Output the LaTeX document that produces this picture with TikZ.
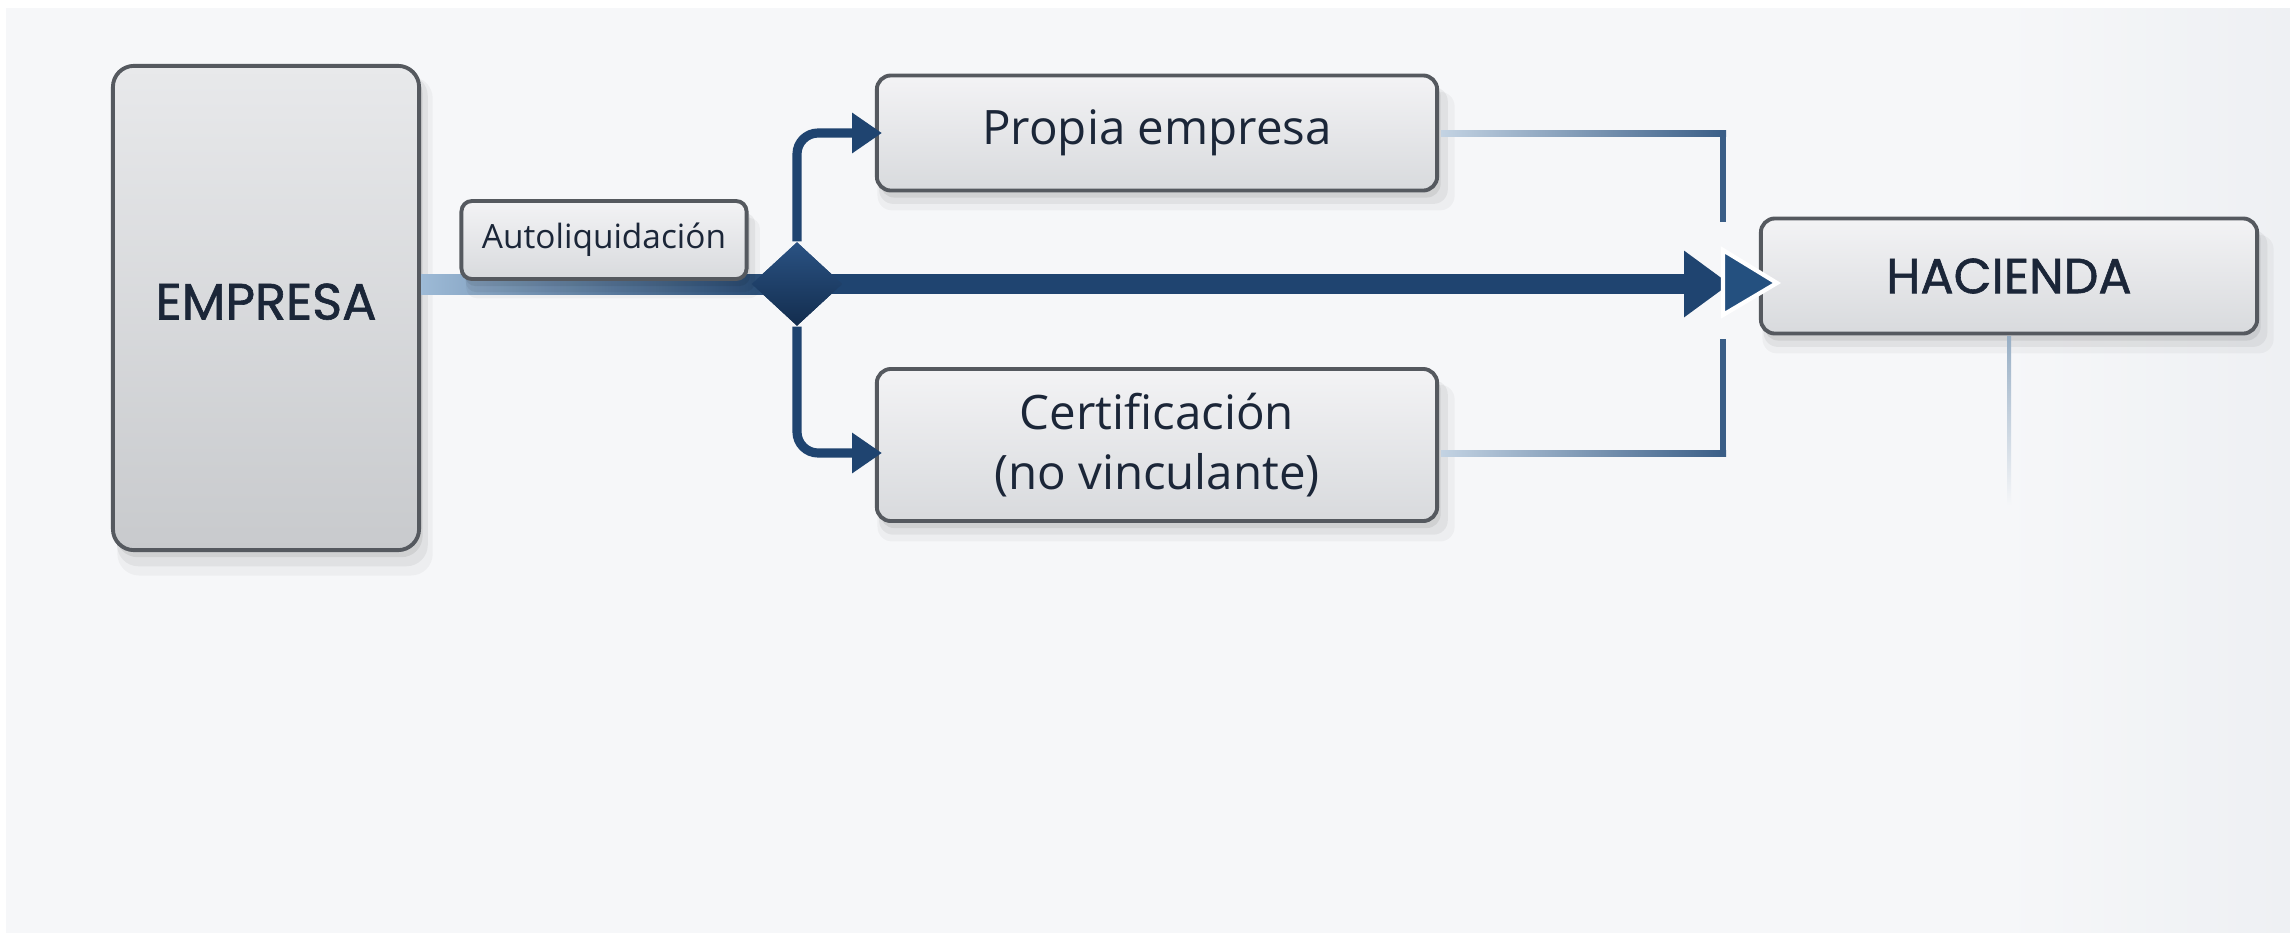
\documentclass[tikz,border=0pt]{standalone}
\usepackage{fontspec}
\setmainfont{Open Sans}
\newfontfamily\geo{Poppins}[FakeBold=1.2]
\usetikzlibrary{shapes.geometric,arrows.meta,shadows,calc}
\definecolor{bg}{HTML}{F6F7F9}
\definecolor{bgr}{HTML}{EEF0F3}
\definecolor{navy}{HTML}{1F4470}
\definecolor{navy2}{HTML}{24507F}
\definecolor{navyl}{HTML}{2A5283}
\definecolor{navyd}{HTML}{132D4E}
\definecolor{lblue}{HTML}{9DBAD6}
\definecolor{pale}{HTML}{C3D3E3}
\definecolor{midblue}{HTML}{3A5E87}
\definecolor{txt}{HTML}{1B2638}
\definecolor{bord}{HTML}{55595F}
\definecolor{boxt}{HTML}{F3F3F5}
\definecolor{boxb}{HTML}{D8DADD}
\definecolor{empt}{HTML}{E8E9EB}
\definecolor{empb}{HTML}{C8CACD}
\tikzset{
  softshadow/.style={
    general shadow={fill=black, opacity=0.035, shadow xshift=2.5pt, shadow yshift=-5pt, shadow scale=1.03},
    general shadow={fill=black, opacity=0.05, shadow xshift=1.8pt, shadow yshift=-3.5pt, shadow scale=1.015},
    general shadow={fill=black, opacity=0.07, shadow xshift=1pt, shadow yshift=-2pt}},
  box/.style={draw=bord, line width=1.1pt, rounded corners=4pt,
    top color=boxt, bottom color=boxb, softshadow,
    text=txt, align=center, inner sep=0pt},
  lbl/.style={font=\fontsize{13.5}{17}\selectfont},
  branch/.style={draw=navy, line width=2.6pt, rounded corners=6pt,
    -{Triangle[length=8.5pt,width=11pt]}, shorten >=-2pt},
  feed/.style={draw=midblue, line width=1.7pt},
  junction/.style={diamond, draw=none, inner sep=0pt, minimum width=0.91cm,
    minimum height=0.84cm, top color=navyl, bottom color=navyd},
}
\begin{document}
\begin{tikzpicture}[x=0.01cm,y=-0.01cm]
\fill[bg] (0,0) rectangle (2290,933);
\shade[left color=bg, right color=bgr] (2000,0) rectangle (2290,933);
\fill[white] (0,0) rectangle (2290,8);
\fill[white] (0,0) rectangle (6,933);
\useasboundingbox (0,0) rectangle (2290,933);

% nodes
\node[box, top color=empt, bottom color=empb, rounded corners=6pt,
  minimum width=3.06cm, minimum height=4.84cm] (emp) at (266,308)
  {\geo\fontsize{14.5}{17}\selectfont\raisebox{3.7pt}{EMPRESA}};
\node[junction] (dia) at (797,284) {};
\node[box, lbl, minimum width=5.6cm, minimum height=1.15cm] (prop) at (1157,133)
  {\raisebox{1pt}{Propia empresa}};
\node[box, lbl, minimum width=5.6cm, minimum height=1.52cm] (cert) at (1157,445)
  {Certificación\\(no vinculante)};
\node[box, minimum width=4.96cm, minimum height=1.15cm] (hac) at (2009,276)
  {\geo\fontsize{14}{17}\selectfont HACIENDA};

% main line from EMPRESA to diamond
\fill[left color=lblue, right color=navy]
  ($(emp.east |- dia.center)+(0,-10)$) rectangle ($(dia.center)+(0,10)$);
\node[box, rounded corners=3pt, minimum width=2.85cm, minimum height=0.78cm,
  font=\fontsize{9.5}{12}\selectfont] (auto) at (604,240) {Autoliquidación};

% main arrow to HACIENDA (double head)
\draw[navy, line width=5.7pt, -{Triangle[length=13pt,width=18pt]}]
  (dia.center) -- ($(hac.west)+(-29,8)$);
\filldraw[fill=navy2, draw=white, line width=1.2pt, line join=miter]
  ($(hac.west)+(-36,-26)$) -- ($(hac.west)+(18,7)$) -- ($(hac.west)+(-36,39)$) -- cycle;
\node[junction] at (dia) {};

% branches
\draw[branch] (dia.north) |- (prop.west);
\draw[branch] (dia.south) |- ($(cert.west)+(0,8)$);

% feeds into HACIENDA
\coordinate (pj) at (1723,222);
\coordinate (cj) at (1723,339);
\fill[left color=pale, right color=midblue]
  ($(prop.east)+(2,-3)$) rectangle ($(pj |- prop.east)+(3,3)$);
\draw[feed] ($(pj |- prop.east)+(0,-3)$) -- (pj);
\fill[left color=pale, right color=midblue]
  ($(cert.east)+(2,5)$) rectangle ($(cj |- cert.east)+(3,11)$);
\draw[feed] ($(cj |- cert.east)+(0,11)$) -- (cj);

% line below HACIENDA
\shade[top color=lblue!80!gray, bottom color=bg]
  ($(hac.south)+(-2,1)$) rectangle ($(hac.south)+(2,170)$);
\end{tikzpicture}
\end{document}
